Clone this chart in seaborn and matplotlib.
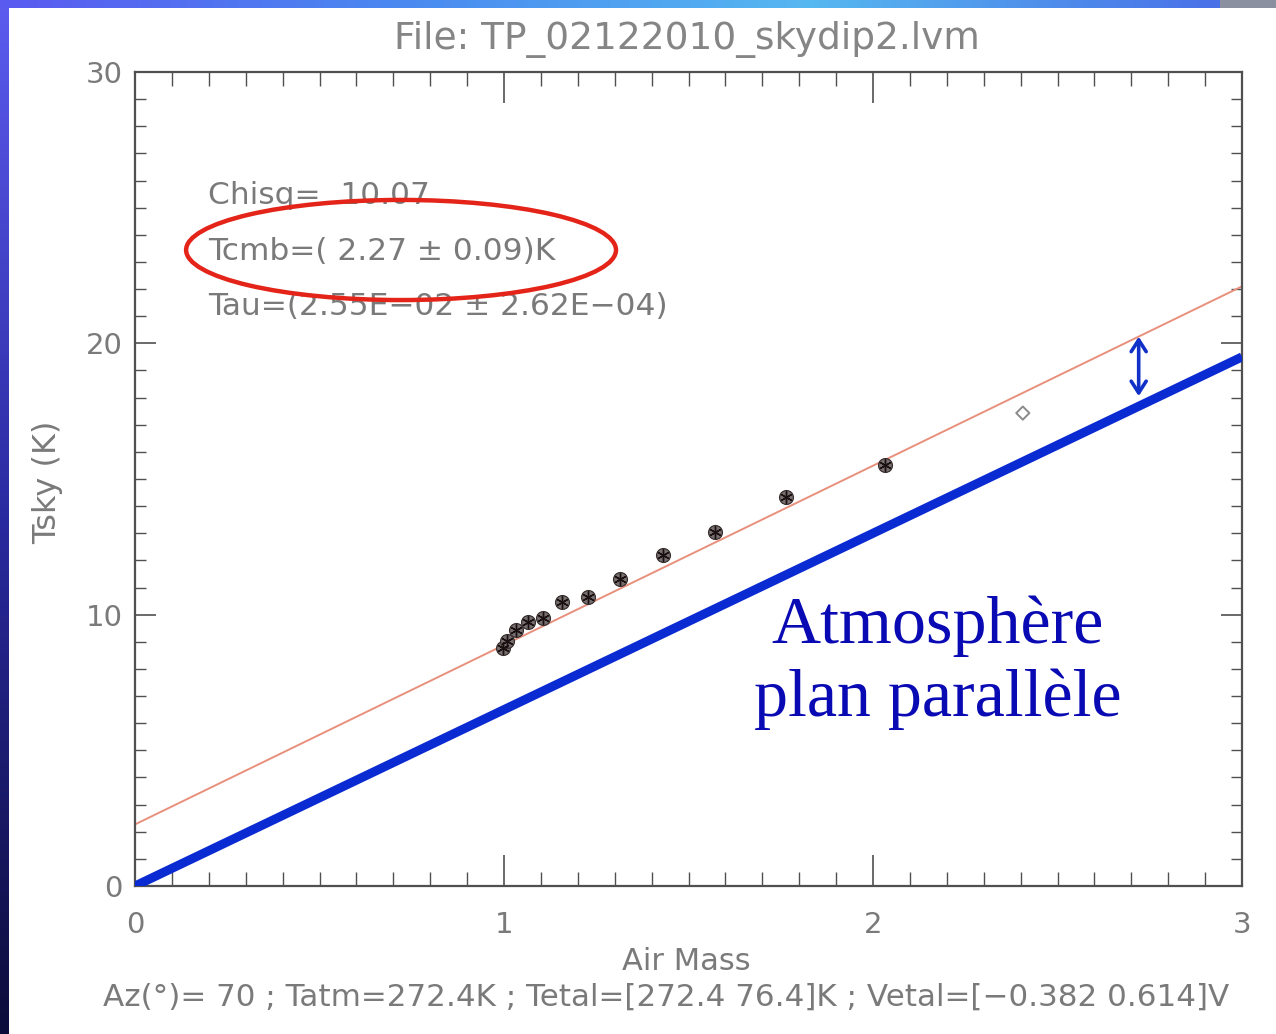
import numpy as np
import pandas as pd
import matplotlib
matplotlib.use("Agg")
import matplotlib.pyplot as plt
from matplotlib.patches import Ellipse
import seaborn as sns

# Skydip measurements: sky temperature versus air mass
airmass = [0.997, 1.008, 1.033, 1.065, 1.106, 1.157, 1.228, 1.314, 1.431, 1.572, 1.764, 2.033]
tsky = [8.77, 9.03, 9.43, 9.73, 9.88, 10.47, 10.65, 11.32, 12.20, 13.05, 14.34, 15.52]

# Point left out of the fit
airmass_rej = [2.406]
tsky_rej = [17.43]

# Fitted curve and plane-parallel atmosphere model
fit_x = [0.0, 3.0]
fit_y = [2.27, 22.1]
model_x = [0.0, 3.0]
model_y = [0.0, 19.5]

x_ticks = [0, 1, 2, 3]
y_ticks = [0, 10, 20, 30]

title = "File: TP_02122010_skydip2.lvm"
fit_lines = ["Chisq=  10.07", "Tcmb=( 2.27 \u00b1 0.09)K", "Tau=(2.55E\u221202 \u00b1 2.62E\u221204)"]
footer = "Az(\u00b0)= 70 ; Tatm=272.4K ; Tetal=[272.4 76.4]K ; Vetal=[\u22120.382 0.614]V"

sns.set_theme(style="white")
plt.rcParams["font.family"] = ["DejaVu Sans"]

W, H = 1276, 1034
fig = plt.figure(figsize=(W / 100, H / 100), dpi=100)
fig.patch.set_facecolor("white")

gray = "#7a7a7a"
frame = "#505050"

# Slide border: blue strip on the left and along the top
left = fig.add_axes([0, 0, 9 / W, 1])
grad_v = np.linspace(0, 1, 256).reshape(-1, 1)
left.imshow(grad_v, aspect="auto", cmap=matplotlib.colors.LinearSegmentedColormap.from_list(
    "lv", ["#0c0c3a", "#2a2aa0", "#5c5cf0"]), origin="lower", extent=[0, 1, 0, 1])
left.axis("off")
top = fig.add_axes([0, 1 - 8 / H, 1220 / W, 8 / H])
grad_h = np.linspace(0, 1, 256).reshape(1, -1)
top.imshow(grad_h, aspect="auto", cmap=matplotlib.colors.LinearSegmentedColormap.from_list(
    "th", ["#5a5af0", "#4a8af0", "#56b8f0", "#4a70e8"]), extent=[0, 1, 0, 1])
top.axis("off")
topr = fig.add_axes([1220 / W, 1 - 8 / H, 1 - 1220 / W, 8 / H])
topr.set_facecolor("#8a90a0")
topr.set_xticks([]); topr.set_yticks([])
for s in topr.spines.values():
    s.set_visible(False)

ax = fig.add_axes([135 / W, (H - 886) / H, 1107 / W, 814 / H])
ax.set_facecolor("white")

sns.lineplot(x=fit_x, y=fit_y, ax=ax, color="#e8907c", lw=1.4, zorder=2)
sns.lineplot(x=model_x, y=model_y, ax=ax, color="#0a2ad2", lw=6.5, zorder=3,
             solid_capstyle="butt")

df = pd.DataFrame({"airmass": airmass, "tsky": tsky})
sns.scatterplot(data=df, x="airmass", y="tsky", ax=ax, marker="o", s=100,
                facecolor="#777070", edgecolor="#3a3030", linewidth=0.9, zorder=4)
sns.scatterplot(data=df, x="airmass", y="tsky", ax=ax, marker=(6, 2, 0), s=70,
                color="#1a1010", linewidth=1.0, zorder=5)
sns.scatterplot(x=airmass_rej, y=tsky_rej, ax=ax, marker="D", s=45,
                facecolor="none", edgecolor="#8a8a8a", linewidth=1.4, zorder=4)

ax.set_xlim(0, 3)
ax.set_ylim(0, 30)
ax.set_xticks(x_ticks)
ax.set_yticks(y_ticks)
ax.set_xticks(np.arange(0, 3.01, 0.1), minor=True)
ax.set_yticks(np.arange(0, 30.1, 1), minor=True)
ax.set_xlabel("")
ax.set_ylabel("")
for s in ax.spines.values():
    s.set_visible(True)
    s.set_color(frame)
    s.set_linewidth(1.6)
ax.tick_params(axis="both", which="both", direction="in", top=True, right=True,
               bottom=True, left=True, color=frame, labelcolor=gray, labelsize=21)
ax.tick_params(axis="x", which="major", length=22, width=1.2, pad=18)
ax.tick_params(axis="x", which="minor", length=10, width=1.0)
ax.tick_params(axis="y", which="major", length=15, width=1.2, pad=9)
ax.tick_params(axis="y", which="minor", length=8, width=1.0)

# Fit results
for i, line in enumerate(fit_lines):
    ax.text(0.198, 25.43 - 2.03 * i, line, color=gray, fontsize=22.5,
            ha="left", va="center", zorder=6)

ell = Ellipse((0.721, 23.44), width=1.165, height=3.69, fill=False,
              edgecolor="#e42418", lw=3.2, zorder=7)
ax.add_patch(ell)

# Gap between fit and model
ax.annotate("", xy=(2.72, 20.35), xytext=(2.72, 17.95),
            arrowprops=dict(arrowstyle="<->,head_length=0.7,head_width=0.45",
                            color="#1030c8", lw=2.6), zorder=6)

ax.text(2.176, 8.24, "Atmosph\u00e8re\nplan parall\u00e8le", color="#0a0ab4",
        fontsize=49, family="Liberation Serif", ha="center", va="center",
        linespacing=1.24, zorder=6)

fig.text(687 / W, 1 - 40 / H, title, color="#858585", fontsize=27, ha="center", va="center")
fig.text(48 / W, 1 - 482 / H, "Tsky (K)", color=gray, fontsize=23, rotation=90,
         ha="center", va="center")
fig.text(686 / W, 1 - 962 / H, "Air Mass", color=gray, fontsize=22, ha="center", va="center")
fig.text(103 / W, 1 - 997 / H, footer, color=gray, fontsize=22.3, ha="left", va="center")

fig.savefig("out.png", dpi=100, facecolor="white")
